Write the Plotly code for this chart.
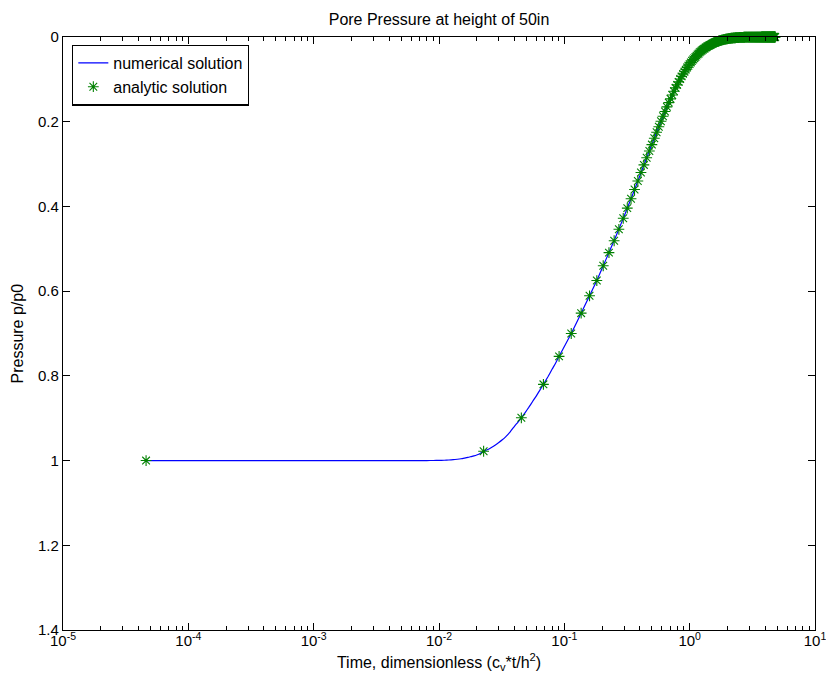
import plotly.graph_objects as go

# ---------------- data ----------------
# analytic solution: sampled times (dimensionless) and pressure p/p0
t_analytic = [
    0.000046,
    0.0227, 0.0454, 0.0681, 0.0908, 0.1135, 0.1362, 0.1589, 0.1816, 0.2043, 0.227,
    0.2497, 0.2724, 0.2951, 0.3178, 0.3405, 0.3632, 0.3859, 0.4086, 0.4313, 0.454,
    0.4767, 0.4994, 0.5221, 0.5448, 0.5675, 0.5902, 0.6129, 0.6356, 0.6583, 0.681,
    0.7037, 0.7264, 0.7491, 0.7718, 0.7945, 0.8172, 0.8399, 0.8626, 0.8853, 0.908,
    0.9307, 0.9534, 0.9761, 0.9988, 1.0215, 1.0442, 1.0669, 1.0896, 1.1123, 1.135,
    1.1577, 1.1804, 1.2031, 1.2258, 1.2485, 1.2712, 1.2939, 1.3166, 1.3393, 1.362,
    1.3847, 1.4074, 1.4301, 1.4528, 1.4755, 1.4982, 1.5209, 1.5436, 1.5663, 1.589,
    1.6117, 1.6344, 1.6571, 1.6798, 1.7025, 1.7252, 1.7479, 1.7706, 1.7933, 1.816,
    1.8387, 1.8614, 1.8841, 1.9068, 1.9295, 1.9522, 1.9749, 1.9976, 2.0203, 2.043,
    2.0657, 2.0884, 2.1111, 2.1338, 2.1565, 2.1792, 2.2019, 2.2246, 2.2473, 2.27,
    2.2927, 2.3154, 2.3381, 2.3608, 2.3835, 2.4062, 2.4289, 2.4516, 2.4743, 2.497,
    2.5197, 2.5424, 2.5651, 2.5878, 2.6105, 2.6332, 2.6559, 2.6786, 2.7013, 2.724,
    2.7467, 2.7694, 2.7921, 2.8148, 2.8375, 2.8602, 2.8829, 2.9056, 2.9283, 2.951,
    2.9737, 2.9964, 3.0191, 3.0418, 3.0645, 3.0872, 3.1099, 3.1326, 3.1553, 3.178,
    3.2007, 3.2234, 3.2461, 3.2688, 3.2915, 3.3142, 3.3369, 3.3596, 3.3823, 3.405,
    3.4277, 3.4504, 3.4731, 3.4958, 3.5185, 3.5412, 3.5639, 3.5866, 3.6093, 3.632,
    3.6547, 3.6774, 3.7001, 3.7228, 3.7455, 3.7682, 3.7909, 3.8136, 3.8363, 3.859,
    3.8817, 3.9044, 3.9271, 3.9498, 3.9725, 3.9952, 4.0179, 4.0406, 4.0633, 4.086,
    4.1087, 4.1314, 4.1541, 4.1768, 4.1995, 4.2222, 4.2449, 4.2676, 4.2903, 4.313,
    4.3357, 4.3584, 4.3811, 4.4038, 4.4265, 4.4492, 4.4719, 4.4946, 4.5173, 4.54,
    4.5627, 4.5854, 4.6081, 4.6308, 4.6535, 4.6762, 4.6989, 4.7216, 4.7443, 4.767,
    4.7897, 4.8124,
]
p_analytic = [
    1.0,
    0.978, 0.899, 0.820, 0.754, 0.700, 0.652, 0.611, 0.575, 0.540, 0.509,
    0.481, 0.454, 0.428, 0.404, 0.382, 0.360, 0.340, 0.320, 0.302, 0.285,
    0.269, 0.254, 0.239, 0.225, 0.212, 0.199, 0.187, 0.176, 0.165, 0.155,
    0.146, 0.137, 0.128, 0.120, 0.113, 0.106, 0.099, 0.093, 0.087, 0.082,
    0.077, 0.072, 0.068, 0.064, 0.060, 0.056, 0.053, 0.050, 0.047, 0.044,
    0.041, 0.039, 0.036, 0.034, 0.032, 0.030, 0.028, 0.027, 0.025, 0.024,
    0.022, 0.021, 0.020, 0.019, 0.018, 0.0165, 0.0155, 0.0146, 0.0137, 0.0129,
    0.0121, 0.0114, 0.0107, 0.0101, 0.0095, 0.0089, 0.0084, 0.0079, 0.0074, 0.0070,
    0.0066, 0.0062, 0.0058, 0.0055, 0.0052, 0.0049, 0.0046, 0.0043, 0.0040, 0.0038,
    0.0036, 0.0034, 0.0032, 0.0030, 0.0028, 0.0026, 0.0025, 0.0023, 0.0022, 0.0021,
    0.0019, 0.0018, 0.0017, 0.0016, 0.0015, 0.0014, 0.0013, 0.0013, 0.0012, 0.0011,
    0.0010, 0.0010, 0.0009, 0.0009, 0.0008, 0.0008, 0.0007, 0.0007, 0.0006, 0.0006,
    0.0006, 0.0005, 0.0005, 0.0005, 0.0005, 0.0004, 0.0004, 0.0004, 0.0004, 0.0004,
    0.0003, 0.0003, 0.0003, 0.0003, 0.0003, 0.0003, 0.0002, 0.0002, 0.0002, 0.0002,
    0.0002, 0.0002, 0.0002, 0.0002, 0.0001, 0.0001, 0.0001, 0.0001, 0.0001, 0.0001,
    0.0001, 0.0001, 0.0001, 0.0001, 0.0001, 0.0001, 0.0001, 0.0001, 0.0001, 0.0001,
    0.0001, 0.0001, 0.0001, 0.0001, 0.0, 0.0, 0.0, 0.0, 0.0, 0.0,
    0.0, 0.0, 0.0, 0.0, 0.0, 0.0, 0.0, 0.0, 0.0, 0.0,
    0.0, 0.0, 0.0, 0.0, 0.0, 0.0, 0.0, 0.0, 0.0, 0.0,
    0.0, 0.0, 0.0, 0.0, 0.0, 0.0, 0.0, 0.0, 0.0, 0.0,
    0.0, 0.0, 0.0, 0.0, 0.0, 0.0, 0.0, 0.0, 0.0, 0.0,
    0.0, 0.0,
]

# numerical solution (continuous line)
t_numerical = [
    0.000046, 0.0001, 0.001, 0.004, 0.006, 0.007, 0.008, 0.009, 0.010, 0.011,
    0.012, 0.013, 0.014, 0.015, 0.016, 0.017, 0.018, 0.019, 0.020, 0.0213,
    0.0227, 0.0245, 0.026, 0.028, 0.030, 0.032, 0.034, 0.037, 0.040, 0.0427,
    0.0454, 0.049, 0.052, 0.056, 0.060, 0.064, 0.0681, 0.074, 0.080, 0.0855,
    0.0908, 0.1135, 0.1362, 0.1589, 0.1816, 0.2043, 0.227, 0.26,
    0.30, 0.35, 0.40, 0.45, 0.50, 0.55, 0.60, 0.70, 0.80, 0.90,
    1.0, 1.2, 1.4, 1.7, 2.0, 2.5, 3.0, 4.0, 4.8,
]
p_numerical = [
    1.0, 1.0, 1.0, 1.0, 1.0, 1.0, 0.9999, 0.9998, 0.9996, 0.9992,
    0.9986, 0.9979, 0.9969, 0.9957, 0.9942, 0.9926, 0.9907, 0.9888, 0.9867, 0.9833,
    0.978, 0.9738, 0.9695, 0.9637, 0.9575, 0.951, 0.944, 0.932, 0.919, 0.909,
    0.899, 0.8855, 0.8745, 0.860, 0.8466, 0.833, 0.820, 0.802, 0.784, 0.769,
    0.754, 0.700, 0.652, 0.611, 0.575, 0.540, 0.509, 0.468,
    0.423, 0.373, 0.328, 0.288, 0.253, 0.222, 0.194, 0.148, 0.112, 0.085,
    0.064, 0.037, 0.021, 0.0096, 0.0043, 0.0011, 0.0004, 0.0001, 0.0,
]

x_tick_vals = [1e-5, 1e-4, 1e-3, 1e-2, 1e-1, 1e0, 1e1]
x_tick_text = ["10<sup>-5</sup>", "10<sup>-4</sup>", "10<sup>-3</sup>", "10<sup>-2</sup>",
               "10<sup>-1</sup>", "10<sup>0</sup>", "10<sup>1</sup>"]
y_tick_vals = [0, 0.2, 0.4, 0.6, 0.8, 1.0, 1.2, 1.4]
y_tick_text = ["0", "0.2", "0.4", "0.6", "0.8", "1", "1.2", "1.4"]

# ---------------- figure ----------------
FONT = "Liberation Sans, Arial, Helvetica, sans-serif"

FIG_W, FIG_H = 826, 679
M_L, M_R, M_T, M_B = 63, 11, 37, 49
PLOT_W = FIG_W - M_L - M_R

minor_vals = [m * d for d in x_tick_vals[:-1] for m in range(2, 10)]

fig = go.Figure()
fig.add_trace(go.Scatter(
    x=t_numerical, y=p_numerical, mode="lines", name="numerical solution",
    line=dict(color="#0000ff", width=1.2, shape="spline", smoothing=0.6),
))
fig.add_trace(go.Scatter(
    x=t_analytic, y=p_analytic, mode="markers", name="analytic solution",
    marker=dict(symbol="asterisk-open", size=9, color="#008000",
                line=dict(color="#008000", width=1.1)),
    cliponaxis=False,
))

fig.update_layout(
    width=FIG_W, height=FIG_H,
    margin=dict(l=M_L, r=M_R, t=M_T, b=M_B),
    paper_bgcolor="white", plot_bgcolor="white",
    font=dict(family=FONT, size=15, color="black"),
    title=dict(text="Pore Pressure at height of 50in", x=0.5, xref="paper",
               xanchor="center", y=1 - 19 / FIG_H, yref="container", yanchor="middle",
               font=dict(size=16, family=FONT, color="black")),
    showlegend=True,
    legend=dict(x=0.012, y=0.987, xanchor="left", yanchor="top",
                bgcolor="white", bordercolor="black", borderwidth=1.3,
                font=dict(size=16, family=FONT), tracegroupgap=0,
                itemwidth=30),
    annotations=[dict(
        text="Pressure p/p0", textangle=-90, showarrow=False,
        xref="paper", yref="paper", x=-(M_L - 17) / PLOT_W, y=0.5,
        xanchor="center", yanchor="middle",
        font=dict(size=16, family=FONT, color="black"),
    )],
)

fig.update_xaxes(
    type="log", range=[-5, 1], automargin=False,
    tickmode="array", tickvals=x_tick_vals, ticktext=x_tick_text,
    ticks="inside", ticklen=7, tickwidth=1, tickcolor="black",
    ticklabelstandoff=-3, ticklabeloverflow="allow",
    minor=dict(tickmode="array", tickvals=minor_vals, ticks="inside",
               ticklen=4, tickwidth=1, tickcolor="black", showgrid=False),
    showline=True, linecolor="black", linewidth=1.3, mirror="ticks",
    showgrid=False, zeroline=False,
    tickfont=dict(size=15, family=FONT),
    title=dict(text="Time, dimensionless (c<sub>v</sub>*t/h<sup>2</sup>)",
               font=dict(size=16, family=FONT), standoff=8),
)
fig.update_yaxes(
    range=[1.4, 0], automargin=False,
    tickmode="array", tickvals=y_tick_vals, ticktext=y_tick_text,
    ticks="inside", ticklen=7, tickwidth=1, tickcolor="black",
    ticklabeloverflow="allow",
    showline=True, linecolor="black", linewidth=1.3, mirror="ticks",
    showgrid=False, zeroline=False,
    tickfont=dict(size=15, family=FONT),
)

# remove the default 8px page margin so the 826x679 figure fills the window exactly
fig.write_html(
    "out.html",
    config={"displayModeBar": False},
    post_script="document.body.style.margin='0';document.body.style.overflow='hidden';",
)
